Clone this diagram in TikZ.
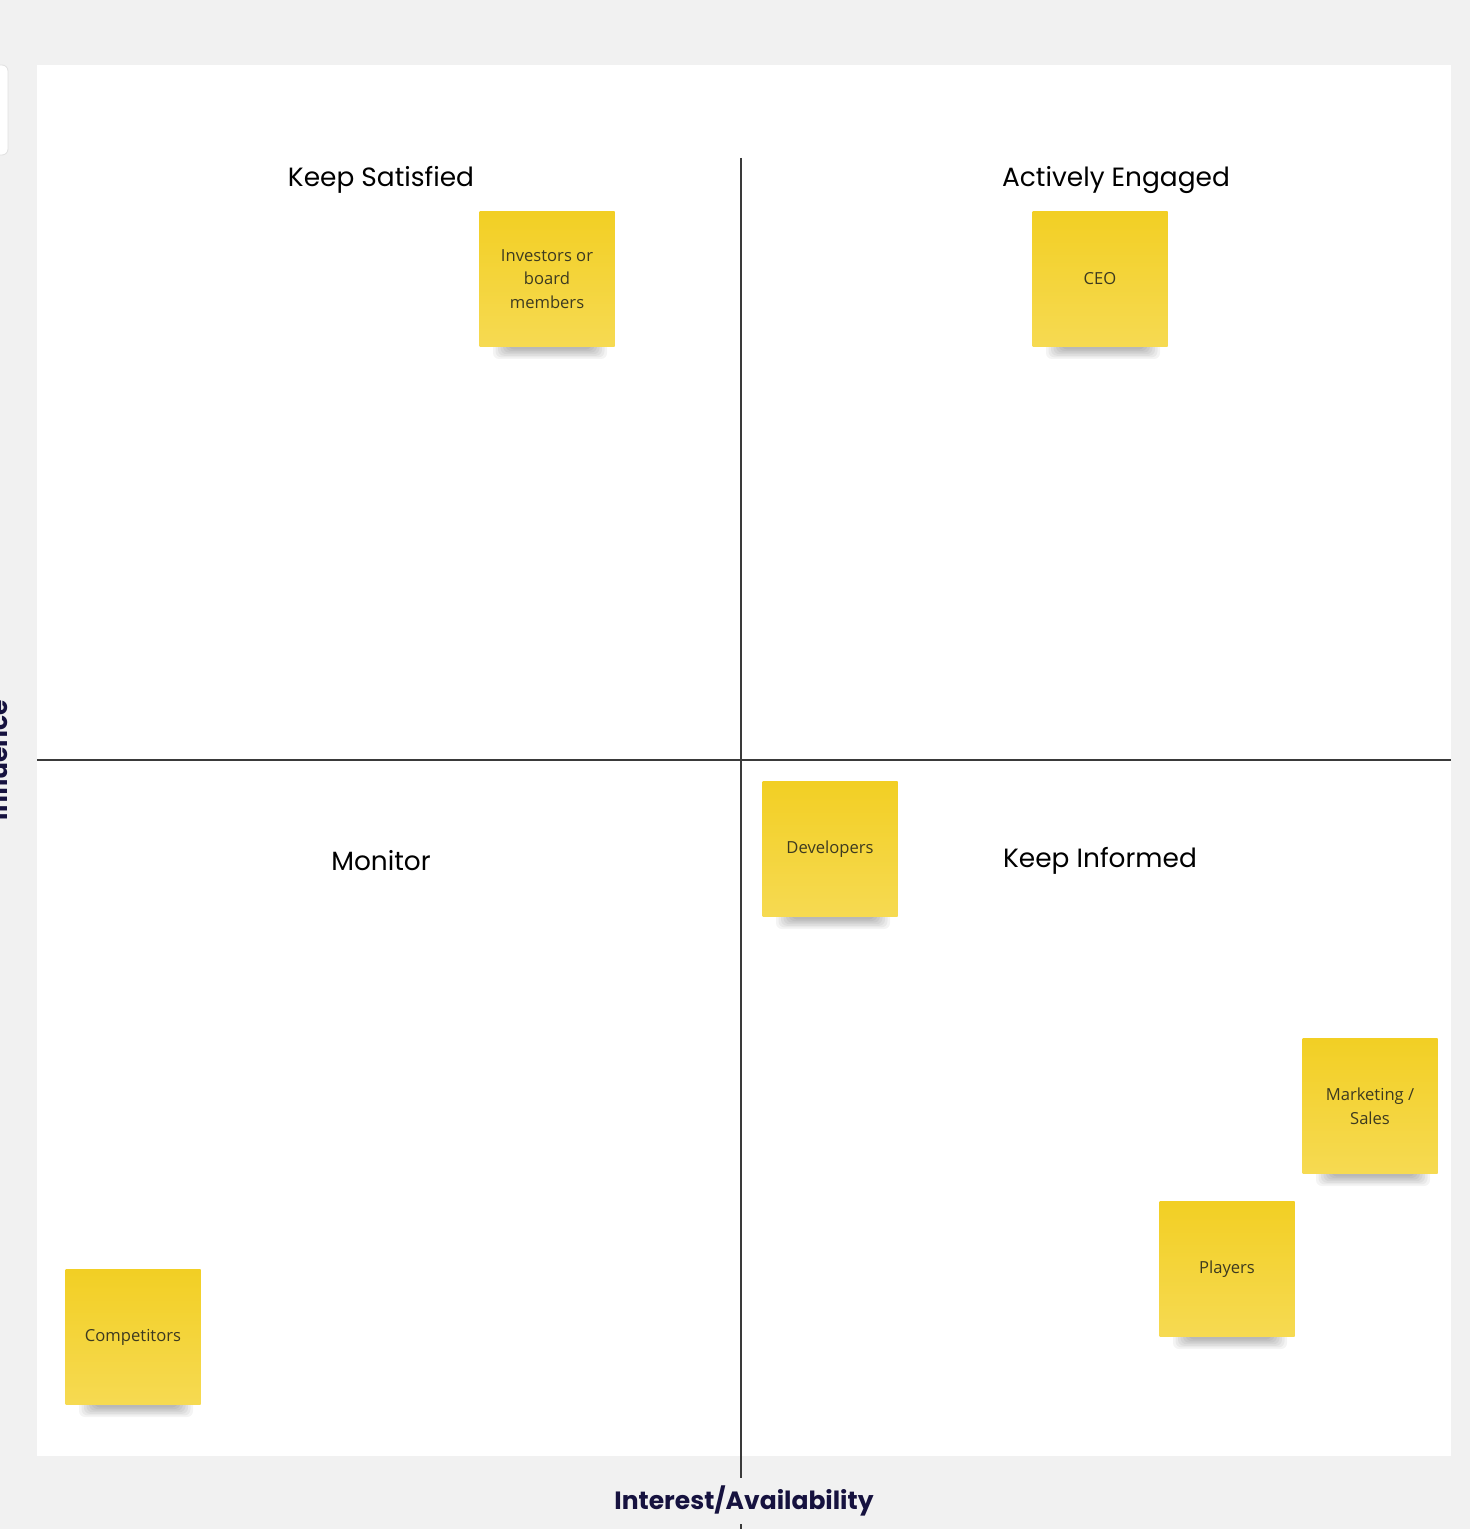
\documentclass[tikz,border=0pt]{standalone}
\usepackage{fontspec}
\setmainfont{Open Sans}
\newfontfamily\headfont{Poppins}
\definecolor{bggray}{HTML}{F1F1F1}
\definecolor{gridline}{HTML}{3A3A3A}
\definecolor{navy}{HTML}{16123F}
\definecolor{stickytop}{HTML}{F2CF24}
\definecolor{stickybot}{HTML}{F6DA52}
\definecolor{stickytext}{HTML}{3D3A20}
\tikzset{
  sticky/.style={top color=stickytop, bottom color=stickybot, draw=none,
    minimum width=67.5pt, minimum height=67.5pt, inner sep=0pt,
    align=center, font=\fontsize{8.3}{11.8}\selectfont, text=stickytext},
  heading/.style={font=\headfont\fontsize{13.2}{16}\selectfont, text=black},
  axislabel/.style={font=\headfont\bfseries\fontsize{12.5}{15}\selectfont, text=navy},
  quadline/.style={draw=gridline, line width=0.8pt}
}
\newcommand{\stickynote}[4]{% name, cx, cy, text
  \foreach \i in {0,...,6}{
    \fill[black,opacity=0.045,rounded corners=3pt]
      ({#2-54+2.5*\i},{#3+60}) rectangle ({#2+60-2.5*\i},{#3+80-1.6*\i});
  }
  \node[sticky] (#1) at (#2,#3) {#4};
}
\begin{document}
\begin{tikzpicture}[x=0.5pt,y=-0.5pt]
\useasboundingbox (0,0) rectangle (1470,1529);
\fill[bggray] (0,0) rectangle (1470,1529);
% small panel at top-left edge
\filldraw[fill=white, draw=black!12, rounded corners=3pt] (-40,65) rectangle (8,155);
% truncated axis label on the left
\node[axislabel, rotate=90, anchor=base] (influence) at (8,760) {Influence};
% main board
\fill[white] (37,65) rectangle (1451,1456);
% quadrant lines
\coordinate (vtop) at (741,158);
\coordinate (vbot) at (741,1529);
\coordinate (hleft) at (37,760);
\coordinate (hright) at (1451,760);
\draw[quadline] (vtop) -- (vbot);
\draw[quadline] (hleft) -- (hright);
% bottom axis label
\node[axislabel, fill=bggray, inner sep=4pt] (interest) at (744,1501) {Interest/Availability};
% headings
\node[heading] (ks) at (381,180) {Keep Satisfied};
\node[heading] (ae) at (1116,180) {Actively Engaged};
\node[heading] (mon) at (381,861) {Monitor};
\node[heading] (ki) at (1100,861) {Keep Informed};
% sticky notes
\stickynote{inv}{547}{279}{Investors or\\board\\members}
\stickynote{ceo}{1100}{279}{CEO}
\stickynote{dev}{830}{849}{Developers}
\stickynote{mkt}{1370}{1106}{Marketing /\\Sales}
\stickynote{ply}{1227}{1269}{Players}
\stickynote{cmp}{133}{1337}{Competitors}
\end{tikzpicture}
\end{document}
